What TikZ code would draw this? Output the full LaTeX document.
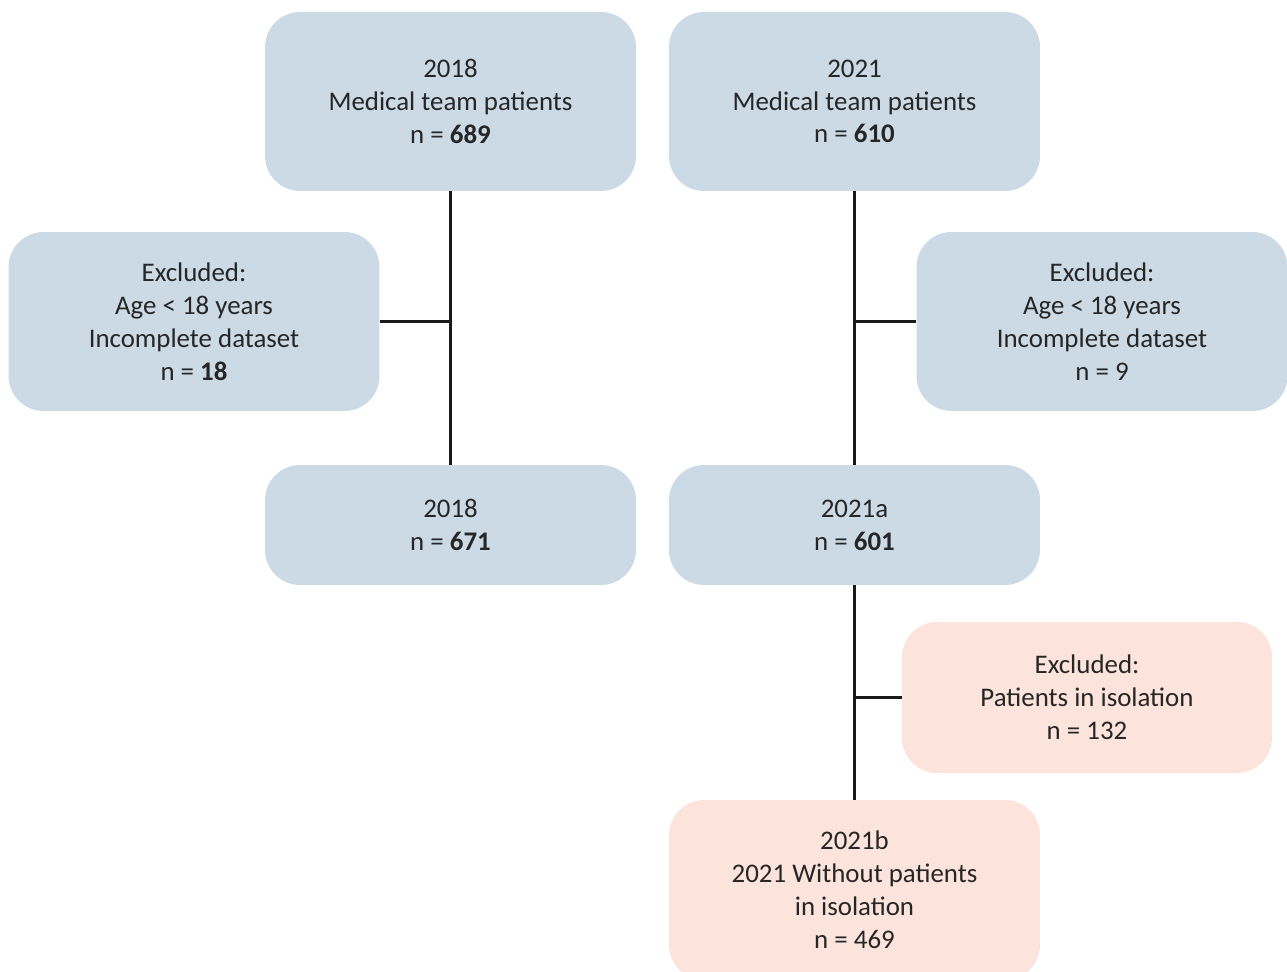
\documentclass[tikz,border=0pt]{standalone}
\usepackage{fontspec}
\setmainfont{Carlito}
\usepackage{xcolor}
\usepackage{tikz}
\definecolor{boxblue}{HTML}{CCDAE6}
\definecolor{boxpink}{HTML}{FCE4DC}
\definecolor{linecol}{HTML}{1A1A1A}
\tikzset{
  box/.style={rounded corners=0.7cm, align=center, minimum width=7.42cm,
    minimum height=3.58cm, inner sep=0pt, text=black!85,
    font=\fontsize{15.3}{18.7}\selectfont},
  blue/.style={box, fill=boxblue},
  pink/.style={box, fill=boxpink},
  link/.style={line width=1.3pt, draw=linecol},
}

\begin{document}
\begin{tikzpicture}[x=0.02cm, y=-0.02cm]
  \useasboundingbox (0,0) rectangle (1287,972);
  \begin{scope}
  \clip (0,0) rectangle (1287,972);

  \node[blue] (top18) at (450.5,101.5) {2018\\Medical team patients\\n = \textbf{689}};
  \node[blue] (top21) at (854.5,101.5) {2021\\Medical team patients\\n = \textbf{610}};

  \node[blue] (ex18) at (194,321.5) {Excluded:\\Age < 18 years\\Incomplete dataset\\n = \textbf{18}};
  \node[blue] (ex21) at (1102,321.5) {Excluded:\\Age < 18 years\\Incomplete dataset\\n = 9};

  \node[blue, minimum height=2.4cm] (mid18) at (450.5,525) {2018\\n = \textbf{671}};
  \node[blue, minimum height=2.4cm] (mid21a) at (854.5,525) {2021a\\n = \textbf{601}};

  \node[pink, minimum width=7.4cm, minimum height=3.02cm] (exiso) at (1087,697.5) {Excluded:\\Patients in isolation\\n = 132};
  \node[pink, minimum height=3.6cm] (fin21b) at (854.5,890) {2021b\\2021 Without patients\\in isolation\\n = 469};

  % 2018 flow
  \draw[link] (top18.south) -- (mid18.north);
  \draw[link] (ex18.east) -- (ex18.east -| top18.south);

  % 2021 flow
  \draw[link] (top21.south) -- (mid21a.north);
  \draw[link] (ex21.west) -- (ex21.west -| top21.south);
  \draw[link] (mid21a.south) -- (fin21b.north);
  \draw[link] (exiso.west) -- (exiso.west -| mid21a.south);
  \end{scope}
\end{tikzpicture}
\end{document}
